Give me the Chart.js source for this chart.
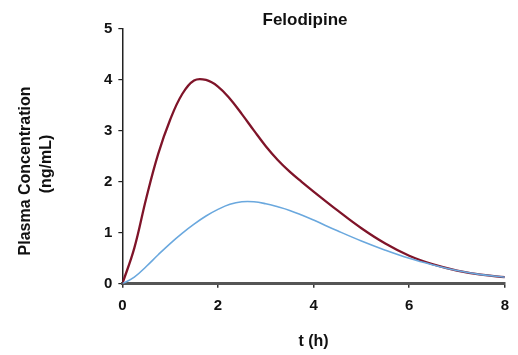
<!DOCTYPE html>
<html>
<head>
<meta charset="utf-8">
<script src="https://cdn.jsdelivr.net/npm/chart.js@4"></script>
<style>
  html, body { margin: 0; padding: 0; background: #ffffff; }
  #wrap { width: 518px; height: 355px; position: relative; }
</style>
</head>
<body>
<div id="wrap"><canvas id="c" width="518" height="355"></canvas></div>
<script>
const chartTitle = "Felodipine";
const yTitleLines = ["Plasma Concentration", "(ng/mL)"];
const xTitle = "t (h)";
const xTicks = [0, 2, 4, 6, 8];
const yTicks = [0, 1, 2, 3, 4, 5];

const times = [0, 0.25, 0.5, 0.75, 1.0, 1.25, 1.5, 1.75, 2.0, 2.25, 2.5, 2.75, 3.0, 3.25, 3.5, 3.75, 4.0, 4.5, 5.0, 5.5, 6.0, 6.5, 7.0, 7.5, 8.0];
const redSeries = [0, 0.70, 1.68, 2.55, 3.22, 3.72, 3.99, 4.00, 3.87, 3.63, 3.33, 3.01, 2.70, 2.43, 2.20, 2.00, 1.81, 1.44, 1.09, 0.79, 0.55, 0.38, 0.26, 0.18, 0.13];
const blueSeries = [0, 0.13, 0.34, 0.57, 0.79, 0.99, 1.17, 1.33, 1.46, 1.56, 1.61, 1.61, 1.57, 1.51, 1.44, 1.35, 1.25, 1.04, 0.84, 0.66, 0.50, 0.37, 0.26, 0.18, 0.13];

const toPts = (ys) => times.map((t, i) => ({ x: t, y: ys[i] }));

const textPlugin = {
  id: 'texts',
  afterDraw(chart) {
    const ctx = chart.ctx;
    ctx.save();
    ctx.fillStyle = '#111';
    ctx.textAlign = 'center';
    ctx.textBaseline = 'middle';
    ctx.font = "bold 17px 'Liberation Sans', Arial, Helvetica, sans-serif";
    ctx.fillText(chartTitle, 305, 20);
    ctx.font = "bold 16px 'Liberation Sans', Arial, Helvetica, sans-serif";
    ctx.save();
    ctx.translate(26, 171);
    ctx.rotate(-Math.PI / 2);
    ctx.fillText(yTitleLines[0], 0, 0);
    ctx.restore();
    ctx.save();
    ctx.translate(47, 164);
    ctx.rotate(-Math.PI / 2);
    ctx.fillText(yTitleLines[1], 0, 0);
    ctx.restore();
    ctx.restore();
  }
};

new Chart(document.getElementById('c'), {
  type: 'line',
  data: {
    datasets: [
      { label: 'B', data: toPts(blueSeries), borderColor: '#6aa8de', borderWidth: 1.6, pointRadius: 0, tension: 0.4, fill: false },
      { label: 'A', data: toPts(redSeries), borderColor: '#7f1429', borderWidth: 2.3, pointRadius: 0, tension: 0.4, fill: false }
    ]
  },
  options: {
    responsive: false,
    animation: false,
    devicePixelRatio: 1,
    layout: { padding: { left: 98, right: 6, top: 29, bottom: 4 } },
    plugins: { legend: { display: false }, tooltip: { enabled: false }, title: { display: false } },
    scales: {
      x: {
        type: 'linear', min: 0, max: 8,
        afterBuildTicks: (ax) => { ax.ticks = xTicks.map(v => ({ value: v })); },
        grid: { drawOnChartArea: false, drawTicks: true, tickLength: 4, color: '#333', lineWidth: 1.5 },
        border: { display: true, color: '#555', width: 3 },
        ticks: { color: '#111', font: { family: "'Liberation Sans', Arial, sans-serif", size: 15, weight: 'bold' }, padding: 9, maxRotation: 0 },
        title: { display: true, text: xTitle, color: '#111', font: { family: "'Liberation Sans', Arial, sans-serif", size: 16, weight: 'bold' }, padding: { top: 8, bottom: 0 } }
      },
      y: {
        type: 'linear', min: 0, max: 5,
        afterBuildTicks: (ax) => { ax.ticks = yTicks.map(v => ({ value: v })); },
        grid: { drawOnChartArea: false, drawTicks: true, tickLength: 4, color: '#222', lineWidth: 1.2 },
        border: { display: true, color: '#222', width: 1.5 },
        ticks: { color: '#111', font: { family: "'Liberation Sans', Arial, sans-serif", size: 15, weight: 'bold' }, padding: 6 }
      }
    }
  },
  plugins: [textPlugin]
});
</script>
</body>
</html>
